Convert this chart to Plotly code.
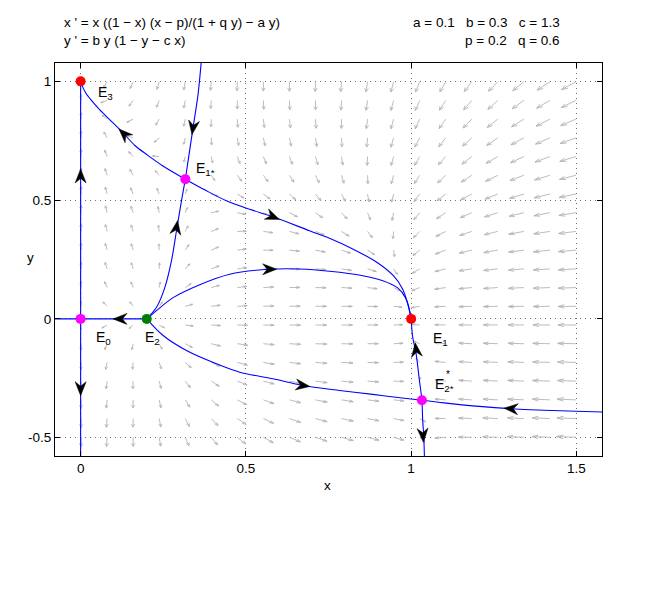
import numpy as np
import plotly.graph_objects as go

# model parameters shown on the chart
a, b, c, p, q = 0.1, 0.3, 1.3, 0.2, 0.6

X_RANGE = [-0.0776, 1.5776]
Y_RANGE = [-0.5773, 1.0773]

# equilibria (E0, E2, E1, E3, E1*, E2*)
eq_x = [0.0, 0.2, 1.0, 0.0, 0.3167, 1.0327]
eq_y = [0.0, 0.0, 0.0, 1.0, 0.5883, -0.3425]
eq_colors = ["#ff00ff", "#008000", "#ff0000", "#ff0000", "#ff00ff", "#ff00ff"]

# trajectories
xaxis_x = [-0.1, 0.0, 0.2]
xaxis_y = [0.0, 0.0, 0.0]

yaxis_x = [0.0, 0.0]
yaxis_y = [-0.62, 1.0]

# from top edge through E1* down to E2
top_x = [0.366, 0.3553, 0.3402, 0.3251, 0.3167, 0.3051, 0.2900, 0.2749, 0.2549, 0.2296, 0.2]
top_y = [1.10, 0.9454, 0.8050, 0.6651, 0.5883, 0.4971, 0.3710, 0.2450, 0.1328, 0.0487, 0.0]

# E1* to E3
e3_x = [0.3167, 0.249, 0.200, 0.164, 0.131, 0.0885, 0.058, 0.034, 0.016, 0.0054, 0.0]
e3_y = [0.5883, 0.644, 0.692, 0.730, 0.779, 0.838, 0.880, 0.918, 0.950, 0.979, 1.0]

# E1* to E1
upper_x = [0.3167, 0.3755, 0.4411, 0.5115, 0.5819, 0.6927, 0.7532, 0.8338, 0.8982, 0.9465, 0.9737, 0.9888, 1.0]
upper_y = [0.5883, 0.5433, 0.4971, 0.4613, 0.4298, 0.3710, 0.3395, 0.2870, 0.2366, 0.1819, 0.1273, 0.0685, 0.0]

# E2 arching up to E1
arch_x = [0.2, 0.2296, 0.2798, 0.3604, 0.4511, 0.5719, 0.6625, 0.7532, 0.8538, 0.9142, 0.9586, 0.9828, 0.9934, 1.0]
arch_y = [0.0, 0.0349, 0.0895, 0.1441, 0.1882, 0.2092, 0.2101, 0.2008, 0.1819, 0.1609, 0.1315, 0.0895, 0.0475, 0.0]

# E2 down to E2*
lower_x = [0.2, 0.2495, 0.3202, 0.4109, 0.4813, 0.5819, 0.6725, 0.7834, 0.884, 0.96, 1.0327]
lower_y = [0.0, -0.0702, -0.1332, -0.1891, -0.2244, -0.2521, -0.2803, -0.3013, -0.318, -0.331, -0.3425]

# right edge to E2*
right_x = [1.0327, 1.1, 1.2063, 1.3021, 1.45, 1.62]
right_y = [-0.3425, -0.3535, -0.3685, -0.3782, -0.387, -0.394]

# E1 through E2* to the bottom edge
vert_x = [1.0, 1.0048, 1.0151, 1.0251, 1.0327, 1.035, 1.0381, 1.0402, 1.041]
vert_y = [0.0, -0.0773, -0.1471, -0.2592, -0.3425, -0.4273, -0.4903, -0.5773, -0.62]

# black arrowheads on trajectories: centre and direction of travel
head_x = [0.0, 0.0, 0.119, 0.340, 0.290, 0.131, 0.582, 0.572, 0.6725, 1.302, 1.015, 1.036]
head_y = [0.602, -0.294, 0.0, 0.805, 0.385, 0.779, 0.430, 0.209, -0.2803, -0.378, -0.13, -0.49]
head_dx = [0.0, 0.0, -1.0, -0.015, 0.015, -0.043, 0.111, 0.09, 0.11, -0.096, -0.01, 0.003]
head_dy = [1.0, -1.0, 0.0, -0.14, 0.126, 0.059, -0.063, 0.001, -0.021, 0.0097, 0.112, -0.063]

# plot area size in pixels
PW, PH = 547, 393
sx = PW / (X_RANGE[1] - X_RANGE[0])
sy = PH / (Y_RANGE[1] - Y_RANGE[0])

fig = go.Figure()

# direction field
gx = np.linspace(X_RANGE[0], X_RANGE[1], 22)[1:-1]
gy = np.linspace(Y_RANGE[0], Y_RANGE[1], 22)[1:-1]
GX, GY = np.meshgrid(gx, gy)
U = GX * ((1 - GX) * (GX - p) / (1 + q * GY) - a * GY)
V = b * GY * (1 - GY - c * GX)
mag = np.hypot(U, V)
mag[mag == 0] = 1e-9
L = 0.055 * mag ** 0.22
u = U / mag * L
v = V / mag * L
alpha, beta = 0.35, 0.38
fx, fy = [], []
for x0, y0, du, dv in zip(GX.ravel(), GY.ravel(), u.ravel(), v.ravel()):
    tx, ty = x0 + du, y0 + dv
    fx += [x0, tx, None, tx - alpha * (du + beta * dv), tx, tx - alpha * (du - beta * dv), None]
    fy += [y0, ty, None, ty - alpha * (dv - beta * du), ty, ty - alpha * (dv + beta * du), None]
fig.add_trace(go.Scatter(x=fx, y=fy, mode="lines", line=dict(color="#b4b4b4", width=0.9),
                         hoverinfo="skip"))

# trajectories
for tx, ty in [(xaxis_x, xaxis_y), (yaxis_x, yaxis_y), (top_x, top_y), (e3_x, e3_y),
               (upper_x, upper_y), (arch_x, arch_y), (lower_x, lower_y),
               (right_x, right_y), (vert_x, vert_y)]:
    fig.add_trace(go.Scatter(x=tx, y=ty, mode="lines",
                             line=dict(color="#0000ff", width=1.1, shape="spline", smoothing=0.9)))

# arrowheads as filled stealth shapes
hx, hy = [], []
for cx, cy, dx, dy in zip(head_x, head_y, head_dx, head_dy):
    px, py = dx * sx, dy * sy
    n = np.hypot(px, py)
    ex, ey = px / n, py / n
    nx, ny = -ey, ex
    pts = [(7, 0), (-7, 5.5), (-2.5, 0), (-7, -5.5), (7, 0)]
    for s, t in pts:
        hx.append(cx + (s * ex + t * nx) / sx)
        hy.append(cy + (s * ey + t * ny) / sy)
    hx.append(None)
    hy.append(None)
fig.add_trace(go.Scatter(x=hx, y=hy, mode="lines", fill="toself", fillcolor="black",
                         line=dict(color="black", width=0.5)))

# equilibria
fig.add_trace(go.Scatter(x=eq_x, y=eq_y, mode="markers",
                         marker=dict(color=eq_colors, size=10, line=dict(width=0))))

labels = [
    ("E<sub>3</sub>", 0.046, 0.950),
    ("E<sub>1*</sub>", 0.343, 0.632),
    ("E<sub>0</sub>", 0.040, -0.080),
    ("E<sub>2</sub>", 0.188, -0.080),
    ("E<sub>1</sub>", 1.061, -0.085),
    ("E<sub>2*</sub>", 1.067, -0.278),
]
annotations = []
for txt, lx, ly in labels:
    annotations.append(dict(text=txt, x=lx, y=ly, xref="x", yref="y", xanchor="left",
                            yanchor="middle", showarrow=False, font=dict(size=14)))
annotations.append(dict(text="*", x=1.098, y=-0.235, xref="x", yref="y", xanchor="left",
                        yanchor="middle", showarrow=False, font=dict(size=10)))

annotations += [
    dict(text="x ' = x ((1 \u2212 x) (x \u2212 p)/(1 + q y) \u2212 a y)", x=0.0128, y=1.104,
         xref="paper", yref="paper", xanchor="left", yanchor="middle", showarrow=False),
    dict(text="y ' = b y (1 \u2212 y \u2212 c x)", x=0.0128, y=1.0585,
         xref="paper", yref="paper", xanchor="left", yanchor="middle", showarrow=False),
    dict(text="a = 0.1\u00a0\u00a0 b = 0.3\u00a0\u00a0 c = 1.3", x=0.927, y=1.104,
         xref="paper", yref="paper", xanchor="right", yanchor="middle", showarrow=False),
    dict(text="p = 0.2\u00a0\u00a0 q = 0.6", x=0.927, y=1.0585,
         xref="paper", yref="paper", xanchor="right", yanchor="middle", showarrow=False),
    dict(text="x", x=0.499, y=-0.074, xref="paper", yref="paper",
         xanchor="center", yanchor="middle", showarrow=False),
    dict(text="y", x=-0.0457, y=0.504, xref="paper", yref="paper",
         xanchor="center", yanchor="middle", showarrow=False),
]

axis_style = dict(showgrid=True, gridcolor="#707070", griddash="1px,4px", gridwidth=1,
                  zeroline=False, showline=True, linecolor="black", linewidth=1,
                  mirror="ticks", ticks="inside", ticklen=5, tickcolor="black")
fig.update_xaxes(range=X_RANGE, tickvals=[0, 0.5, 1, 1.5],
                 ticktext=["0", "0.5", "1", "1.5"], **axis_style)
fig.update_yaxes(range=Y_RANGE, tickvals=[-0.5, 0, 0.5, 1],
                 ticktext=["-0.5", "0", "0.5", "1"], **axis_style)

# the page adds an 8 px body margin, so the figure is shrunk and shifted to match
fig.update_layout(
    width=655, height=585,
    margin=dict(l=47, r=61, t=55, b=137),
    plot_bgcolor="white", paper_bgcolor="white",
    showlegend=False,
    font=dict(family="Liberation Sans, Arial, sans-serif", size=13.5, color="black"),
    annotations=annotations,
)

fig.write_html("out.html")
